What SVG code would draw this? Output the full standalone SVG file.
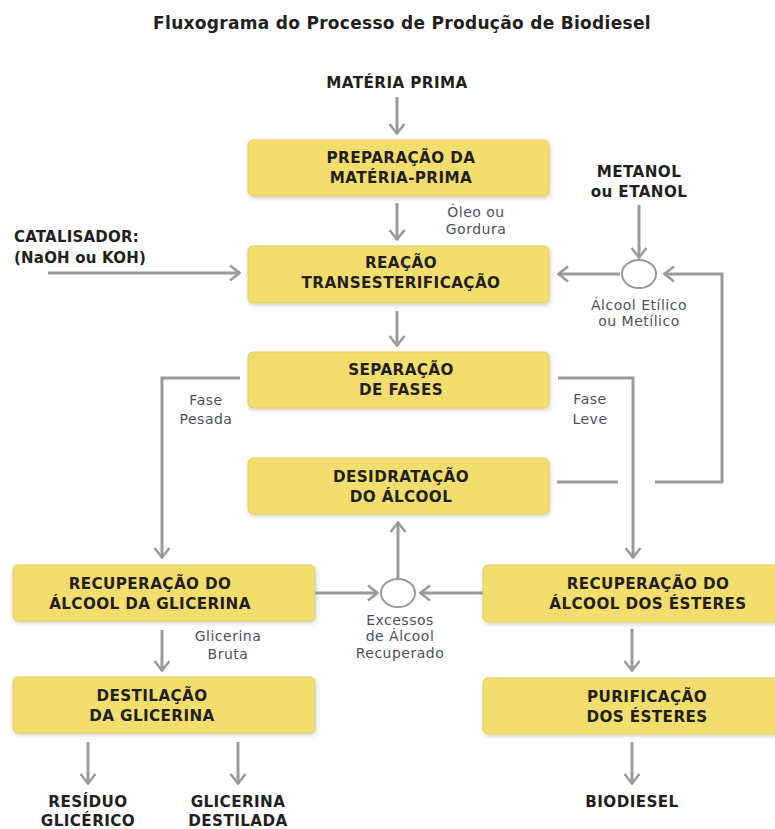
<svg xmlns="http://www.w3.org/2000/svg" width="775" height="829" viewBox="0 0 775 829">
<defs>
<style>
.box{fill:#f3de6d;stroke:#e3cc5c;stroke-width:1}
.bt{font-family:"DejaVu Sans","Liberation Sans",sans-serif;font-weight:bold;font-size:15.2px;fill:#231f20;text-anchor:middle;letter-spacing:0.4px}
.io{font-family:"DejaVu Sans","Liberation Sans",sans-serif;font-weight:bold;font-size:15px;fill:#231f20;letter-spacing:0.2px}
.lb{font-family:"DejaVu Sans","Liberation Sans",sans-serif;font-size:14px;fill:#4f4f5a;text-anchor:middle;letter-spacing:0.5px}
.ln{fill:none;stroke:#9a9a9c;stroke-width:3}
.ar{fill:none;stroke:#9a9a9c;stroke-width:3;marker-end:url(#ah)}
.cir{fill:#fff;stroke:#9a9a9c;stroke-width:2}
</style>
<marker id="ah" markerUnits="userSpaceOnUse" viewBox="0 0 12 18" refX="11" refY="9" markerWidth="12" markerHeight="18" orient="auto">
<path d="M1,1.5 L10.5,9 L1,16.5" fill="none" stroke="#9a9a9c" stroke-width="2.5"/>
</marker>
<filter id="sh" x="-5%" y="-10%" width="112%" height="130%">
<feDropShadow dx="1" dy="2" stdDeviation="2" flood-color="#000" flood-opacity="0.18"/>
</filter>
</defs>
<rect width="775" height="829" fill="#fff"/>
<text x="402" y="29" class="io" style="text-anchor:middle;font-size:17px;letter-spacing:0.3px">Fluxograma do Processo de Produção de Biodiesel</text>

<g id="connectors">
<line class="ar" x1="397" y1="97" x2="397" y2="134"/>
<line class="ar" x1="397" y1="203" x2="397" y2="240"/>
<line class="ar" x1="397" y1="311" x2="397" y2="346"/>
<line class="ar" x1="48" y1="273" x2="240" y2="273"/>
<line class="ar" x1="639" y1="205" x2="639" y2="258"/>
<line class="ar" x1="620" y1="274" x2="558" y2="274"/>
<line class="ln" x1="557" y1="482" x2="618" y2="482"/>
<path class="ar" d="M655,482 H722 V274 H664"/>
<path class="ar" d="M558,378 H633 V558"/>
<path class="ar" d="M240,378 H162 V558"/>
<line class="ar" x1="315" y1="593" x2="378" y2="593"/>
<line class="ar" x1="483" y1="593" x2="420" y2="593"/>
<line class="ar" x1="398" y1="578" x2="398" y2="522"/>
<line class="ar" x1="162" y1="630" x2="162" y2="671"/>
<line class="ar" x1="632" y1="629" x2="632" y2="671"/>
<line class="ar" x1="632" y1="742" x2="632" y2="784"/>
<line class="ar" x1="88" y1="742" x2="88" y2="784"/>
<line class="ar" x1="238" y1="742" x2="238" y2="784"/>
</g>

<g id="materia-prima"><text class="bt" x="397" y="88">MATÉRIA PRIMA</text></g>
<g id="preparacao">
<rect class="box" filter="url(#sh)" x="248" y="140" width="301" height="56" rx="5"/>
<text class="bt" x="401" y="163">PREPARAÇÃO DA</text>
<text class="bt" x="401" y="183">MATÉRIA-PRIMA</text>
</g>
<g id="oleo-label"><text class="lb" x="476" y="217">Óleo ou</text><text class="lb" x="476" y="234">Gordura</text></g>
<g id="catalisador">
<text class="io" x="14" y="242">CATALISADOR:</text>
<text class="io" x="14" y="263">(NaOH ou KOH)</text>
</g>
<g id="metanol">
<text class="bt" x="639" y="177">METANOL</text>
<text class="bt" x="639" y="197">ou ETANOL</text>
</g>
<g id="reacao">
<rect class="box" filter="url(#sh)" x="248" y="246" width="301" height="57" rx="5"/>
<text class="bt" x="401" y="268">REAÇÃO</text>
<text class="bt" x="401" y="288">TRANSESTERIFICAÇÃO</text>
</g>
<g id="mistura-alcool">
<ellipse class="cir" cx="639" cy="274" rx="17" ry="14"/>
<text class="lb" x="639" y="310">Álcool Etílico</text>
<text class="lb" x="639" y="326">ou Metílico</text>
</g>
<g id="separacao">
<rect class="box" filter="url(#sh)" x="248" y="352" width="301" height="56" rx="5"/>
<text class="bt" x="401" y="375">SEPARAÇÃO</text>
<text class="bt" x="401" y="395">DE FASES</text>
</g>
<g id="fase-pesada-label"><text class="lb" x="206" y="405">Fase</text><text class="lb" x="206" y="424">Pesada</text></g>
<g id="fase-leve-label"><text class="lb" x="590" y="404">Fase</text><text class="lb" x="590" y="424">Leve</text></g>
<g id="desidratacao">
<rect class="box" filter="url(#sh)" x="248" y="458" width="301" height="56" rx="5"/>
<text class="bt" x="401" y="482">DESIDRATAÇÃO</text>
<text class="bt" x="401" y="502">DO ÁLCOOL</text>
</g>
<g id="rec-glicerina">
<rect class="box" filter="url(#sh)" x="13" y="565" width="302" height="56" rx="5"/>
<text class="bt" x="150" y="589">RECUPERAÇÃO DO</text>
<text class="bt" x="150" y="609">ÁLCOOL DA GLICERINA</text>
</g>
<g id="excessos">
<ellipse class="cir" cx="398" cy="593" rx="17" ry="14"/>
<text class="lb" x="400" y="625">Excessos</text>
<text class="lb" x="400" y="641">de Álcool</text>
<text class="lb" x="400" y="658">Recuperado</text>
</g>
<g id="rec-esteres">
<rect class="box" filter="url(#sh)" x="483" y="565" width="310" height="57" rx="5"/>
<text class="bt" x="648" y="589">RECUPERAÇÃO DO</text>
<text class="bt" x="648" y="609">ÁLCOOL DOS ÉSTERES</text>
</g>
<g id="glicerina-bruta-label"><text class="lb" x="228" y="641">Glicerina</text><text class="lb" x="228" y="659">Bruta</text></g>
<g id="destilacao">
<rect class="box" filter="url(#sh)" x="13" y="677" width="302" height="56" rx="5"/>
<text class="bt" x="152" y="701">DESTILAÇÃO</text>
<text class="bt" x="152" y="721">DA GLICERINA</text>
</g>
<g id="purificacao">
<rect class="box" filter="url(#sh)" x="483" y="678" width="310" height="56" rx="5"/>
<text class="bt" x="647" y="702">PURIFICAÇÃO</text>
<text class="bt" x="647" y="722">DOS ÉSTERES</text>
</g>
<g id="residuo"><text class="bt" x="88" y="807">RESÍDUO</text><text class="bt" x="88" y="826">GLICÉRICO</text></g>
<g id="glicerina-destilada"><text class="bt" x="238" y="807">GLICERINA</text><text class="bt" x="238" y="826">DESTILADA</text></g>
<g id="biodiesel"><text class="bt" x="632" y="807">BIODIESEL</text></g>
</svg>
